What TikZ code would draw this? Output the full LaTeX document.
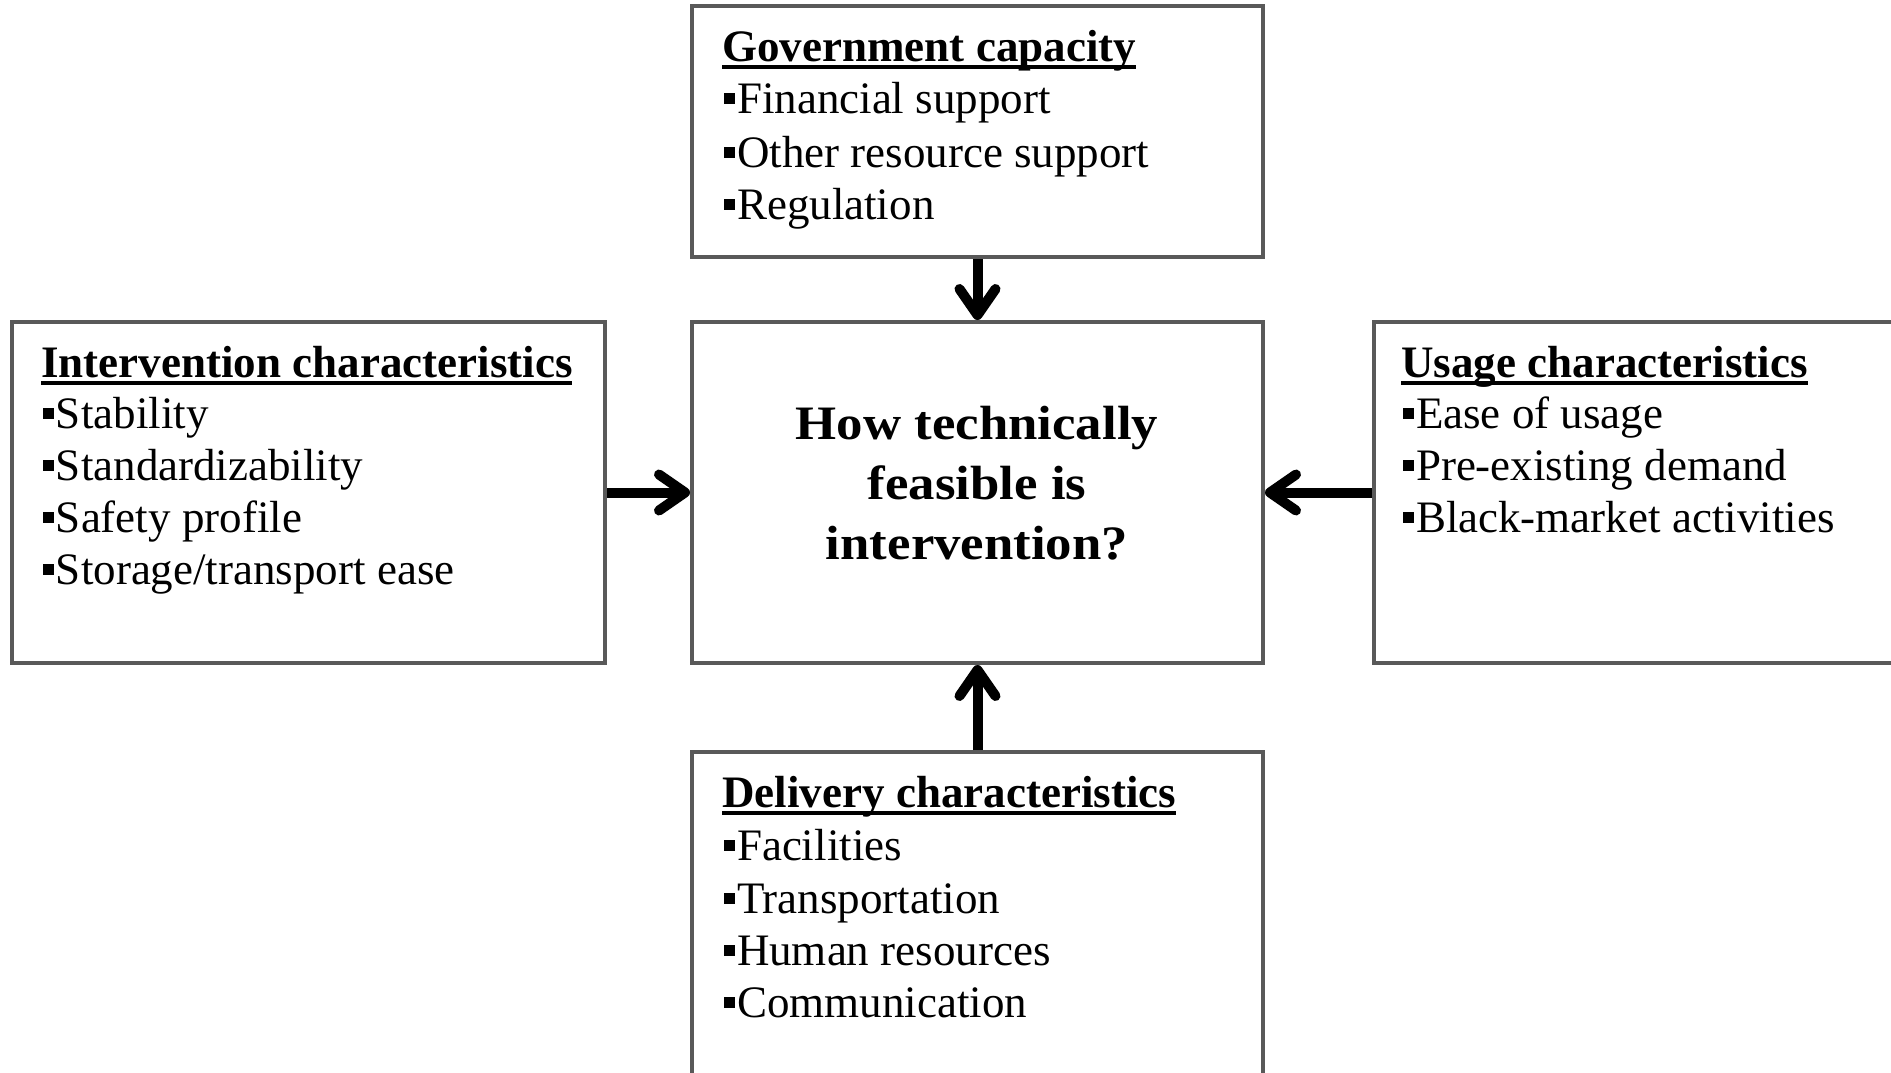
\documentclass[tikz,border=0pt]{standalone}
\usepackage{fontspec}
\setmainfont{Liberation Serif}
\newfontfamily\ctrfont[FakeStretch=1.1]{Liberation Serif}
\usetikzlibrary{arrows.meta,fit}
\newcommand{\bul}{\rule[0.21em]{0.24em}{0.24em}\hspace{0.04em}}
\newcommand{\ttlu}[1]{\setbox0\hbox{#1}\rlap{\rule[-4pt]{\wd0}{1.8pt}}\box0}
\begin{document}
\begin{tikzpicture}[x=0.5pt,y=-0.5pt,
  box/.style={draw=black!65, line width=2pt, fill=white, inner sep=0pt},
  ttl/.style={anchor=base west, inner sep=0pt, font=\fontsize{22.5}{27}\selectfont\bfseries},
  itm/.style={anchor=base west, inner sep=0pt, font=\fontsize{22.5}{27}\selectfont},
  ctrtxt/.style={align=center, inner sep=0pt, font=\fontsize{24}{30}\selectfont\ctrfont\bfseries},
  flowarrow/.style={draw=black, line width=5pt, -{Straight Barb[length=13pt, width=18pt, line width=5pt, line cap=round, line join=round]}}]
\clip (0,0) rectangle (1891,1072);
\fill[white] (0,0) rectangle (1891,1072);
% boxes
\node[box, fit={(692,6) (1263,257)}] (gov) {};
\node[box, fit={(692,322) (1263,663)}] (ctr) {};
\node[box, fit={(12,322) (605,663)}] (lft) {};
\node[box, fit={(1374,322) (1920,663)}] (rgt) {};
\node[box, fit={(692,752) (1263,1100)}] (bot) {};
% government
\node[ttl] (govt) at (722,61) {\ttlu{Government capacity}};
\node[itm] (gov1) at (724,113) {\bul Financial support};
\node[itm] (gov2) at (724,167) {\bul Other resource support};
\node[itm] (gov3) at (724,219) {\bul Regulation};
% intervention
\node[ttl] (lftt) at (41,377) {\ttlu{Intervention characteristics}};
\node[itm] (lft1) at (43,428) {\bul Stability};
\node[itm] (lft2) at (43,480) {\bul Standardizability};
\node[itm] (lft3) at (43,532) {\bul Safety profile};
\node[itm] (lft4) at (43,584) {\bul Storage/transport ease};
% usage
\node[ttl] (rgtt) at (1401,377) {\ttlu{Usage characteristics}};
\node[itm] (rgt1) at (1403,428) {\bul Ease of usage};
\node[itm] (rgt2) at (1403,480) {\bul Pre-existing demand};
\node[itm] (rgt3) at (1403,532) {\bul Black-market activities};
% delivery
\node[ttl] (bott) at (722,807) {\ttlu{Delivery characteristics}};
\node[itm] (bot1) at (724,860) {\bul Facilities};
\node[itm] (bot2) at (724,913) {\bul Transportation};
\node[itm] (bot3) at (724,965) {\bul Human resources};
\node[itm] (bot4) at (724,1017) {\bul Communication};
% center
\node[ctrtxt] (ctrt) at (977,483) {How technically\\feasible is\\intervention?};
% connectors
\draw[flowarrow] (gov.south) -- (ctr.north);
\draw[flowarrow] (lft.east) -- (ctr.west);
\draw[flowarrow] (rgt.west) -- (ctr.east);
\draw[flowarrow] (bot.north) -- (ctr.south);
\end{tikzpicture}
\end{document}
